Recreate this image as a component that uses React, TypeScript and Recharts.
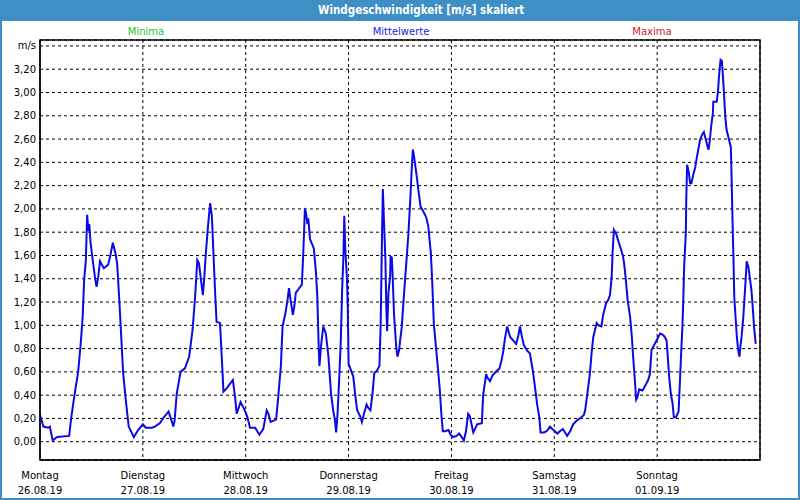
import React from 'react';
import { LineChart, Line, XAxis, YAxis, CartesianGrid, ReferenceArea } from 'recharts';

// hours since Monday 00:00 and wind speed [m/s] at the line's vertices
const hours = [
  0, 0.8, 1.9, 2.3, 2.95, 4.0, 6.8, 7.3, 8.0, 8.9, 9.5, 9.95, 10.3, 10.7, 11.0, 11.3, 11.5, 11.8, 12.3, 12.9,
  13.2, 13.6, 14.0, 14.9, 15.9, 16.3, 17.0, 17.6, 18.0, 18.5, 19.0, 19.4, 20.1, 20.7, 21.9, 22.9, 24.0, 24.7, 26.1, 26.8,
  28.0, 28.9, 30.0, 30.7, 31.1, 31.4, 31.9, 32.8, 33.8, 34.8, 35.6, 36.2, 36.7, 37.1, 37.5, 38.0, 38.3, 38.7, 39.2, 39.7,
  40.1, 40.4, 40.9, 41.2, 42.0, 42.6, 42.8, 43.6, 45.0, 45.5, 45.9, 46.8, 47.8, 48.4, 49.0, 50.2, 51.2, 52.1, 52.9, 53.3,
  53.8, 55.1, 55.6, 56.2, 56.6, 57.2, 57.8, 58.1, 58.5, 59.0, 59.3, 59.7, 60.3, 61.1, 61.4, 61.8, 62.0, 62.4, 62.6, 63.0,
  63.9, 64.4, 64.7, 65.0, 65.2, 65.6, 66.1, 66.7, 67.3, 67.9, 68.4, 68.8, 69.1, 69.4, 69.8, 70.2, 70.5, 70.8, 71.0, 71.2,
  71.6, 71.8, 72.0, 72.5, 73.1, 73.5, 74.0, 74.7, 75.1, 75.6, 76.2, 76.6, 77.1, 77.6, 78.0, 78.6, 79.2, 79.5, 79.8, 80.0,
  80.3, 80.6, 80.8, 81.0, 81.3, 81.7, 81.8, 82.1, 82.3, 82.6, 83.1, 83.4, 83.8, 84.0, 84.4, 84.9, 85.4, 85.9, 86.4, 86.8,
  87.0, 87.2, 87.5, 87.9, 88.3, 88.8, 89.4, 90.1, 90.6, 91.2, 91.5, 91.9, 92.4, 92.9, 93.3, 93.7, 94.0, 94.5, 95.3, 95.8,
  96.4, 97.2, 97.8, 98.4, 98.9, 99.4, 99.9, 100.3, 100.7, 101.1, 101.5, 102.0, 103.1, 103.4, 104.1, 104.4, 105.0, 105.6, 106.6, 107.2,
  107.7, 108.1, 108.5, 109.0, 109.7, 110.4, 111.1, 111.6, 112.0, 112.4, 112.9, 113.7, 114.3, 115.0, 115.5, 116.0, 116.5, 116.8, 117.6, 118.2,
  119.0, 119.8, 120.7, 121.3, 122.0, 123.0, 123.7, 124.4, 125.2, 126.0, 126.9, 127.2, 127.7, 128.3, 128.7, 129.1, 129.5, 129.9, 130.3, 131.0,
  131.4, 132.1, 132.6, 133.0, 133.4, 133.6, 133.9, 134.4, 134.9, 135.5, 136.0, 136.3, 136.7, 137.1, 137.7, 138.1, 138.4, 138.8, 139.1, 139.4,
  139.8, 140.6, 141.2, 141.9, 142.3, 142.7, 143.3, 144.0, 144.7, 145.3, 145.8, 146.2, 146.4, 146.6, 146.8, 147.2, 147.6, 147.9, 148.4, 149.0,
  149.3, 149.6, 149.9, 150.1, 150.3, 150.7, 150.8, 151.0, 151.4, 151.7, 152.0, 152.4, 152.9, 153.2, 153.6, 154.0, 154.5, 154.9, 155.4, 155.8,
  156.0, 156.3, 156.6, 157.0, 157.1, 157.9, 158.2, 158.5, 158.8, 159.1, 159.3, 159.6, 159.9, 160.2, 160.8, 161.2, 161.4, 161.6, 161.8, 162.0,
  162.3, 162.6, 162.9, 163.2, 163.4, 163.7, 164.1, 164.5, 164.9, 165.3, 165.7, 166.0, 166.3, 166.6, 167.0,
];

const speeds = [
  0.23, 0.13, 0.12, 0.13, 0.01, 0.04, 0.05, 0.21, 0.39, 0.6, 0.84, 1.07, 1.39, 1.56, 1.95, 1.81, 1.87, 1.71, 1.56, 1.39,
  1.33, 1.42, 1.55, 1.49, 1.52, 1.58, 1.71, 1.62, 1.53, 1.22, 0.87, 0.59, 0.33, 0.13, 0.04, 0.1, 0.15, 0.12, 0.12, 0.13,
  0.16, 0.21, 0.26, 0.18, 0.13, 0.18, 0.41, 0.6, 0.63, 0.73, 0.96, 1.25, 1.56, 1.53, 1.41, 1.26, 1.39, 1.62, 1.85, 2.05,
  1.94, 1.68, 1.25, 1.03, 1.02, 0.59, 0.43, 0.46, 0.53, 0.39, 0.24, 0.34, 0.27, 0.21, 0.12, 0.12, 0.06, 0.11, 0.27, 0.24,
  0.17, 0.19, 0.39, 0.65, 0.99, 1.09, 1.23, 1.32, 1.21, 1.09, 1.15, 1.28, 1.31, 1.35, 1.59, 1.99, 1.98, 1.87, 1.92, 1.74,
  1.66, 1.45, 1.25, 0.85, 0.65, 0.83, 0.99, 0.93, 0.73, 0.42, 0.27, 0.19, 0.08, 0.22, 0.53, 0.88, 1.31, 1.59, 1.94, 1.68,
  1.42, 1.19, 0.67, 0.62, 0.56, 0.42, 0.27, 0.22, 0.17, 0.24, 0.32, 0.29, 0.27, 0.42, 0.59, 0.61, 0.65, 1.02, 1.78, 2.17,
  1.85, 1.56, 1.16, 0.95, 1.28, 1.42, 1.59, 1.58, 1.41, 1.1, 0.82, 0.73, 0.79, 0.86, 0.98, 1.25, 1.5, 1.75, 2.08, 2.39,
  2.51, 2.47, 2.39, 2.28, 2.16, 2.02, 1.98, 1.93, 1.85, 1.62, 1.39, 1.01, 0.81, 0.61, 0.44, 0.21, 0.09, 0.09, 0.1, 0.06,
  0.04, 0.05, 0.07, 0.04, 0.01, 0.09, 0.24, 0.22, 0.15, 0.08, 0.11, 0.15, 0.16, 0.4, 0.58, 0.55, 0.52, 0.57, 0.61, 0.63,
  0.7, 0.78, 0.89, 0.99, 0.9, 0.87, 0.84, 0.91, 0.99, 0.91, 0.83, 0.78, 0.76, 0.61, 0.47, 0.32, 0.21, 0.08, 0.08, 0.09,
  0.13, 0.1, 0.07, 0.09, 0.11, 0.05, 0.09, 0.15, 0.18, 0.2, 0.23, 0.27, 0.41, 0.58, 0.76, 0.9, 0.96, 1.02, 1.0, 0.99,
  1.09, 1.19, 1.22, 1.26, 1.42, 1.62, 1.82, 1.79, 1.73, 1.66, 1.6, 1.53, 1.39, 1.22, 1.07, 0.9, 0.73, 0.53, 0.36, 0.38,
  0.45, 0.44, 0.48, 0.53, 0.58, 0.79, 0.83, 0.88, 0.93, 0.92, 0.9, 0.87, 0.77, 0.67, 0.56, 0.41, 0.33, 0.21, 0.21, 0.26,
  0.5, 0.76, 0.99, 1.22, 1.5, 1.8, 2.09, 2.38, 2.31, 2.22, 2.22, 2.29, 2.36, 2.43, 2.51, 2.59, 2.64, 2.66, 2.59, 2.53,
  2.51, 2.59, 2.71, 2.82, 2.92, 2.92, 3.01, 3.17, 3.28, 3.27, 3.17, 2.99, 2.79, 2.68, 2.59, 2.53, 2.22, 1.88, 1.59, 1.24,
  1.07, 0.9, 0.79, 0.73, 0.81, 0.9, 1.07, 1.3, 1.55, 1.5, 1.39, 1.3, 1.16, 0.99, 0.84,
];

const dayTicks = [0, 24, 48, 72, 96, 120, 144];
const dayNames = ['Montag', 'Dienstag', 'Mittwoch', 'Donnerstag', 'Freitag', 'Samstag', 'Sonntag'];
const dayDates = ['26.08.19', '27.08.19', '28.08.19', '29.08.19', '30.08.19', '31.08.19', '01.09.19'];
const speedTicks = [0, 0.2, 0.4, 0.6, 0.8, 1.0, 1.2, 1.4, 1.6, 1.8, 2.0, 2.2, 2.4, 2.6, 2.8, 3.0, 3.2, 3.4];

const data = hours.map((t, i) => ({ t, v: speeds[i] }));

const FONT = '"DejaVu Sans", Verdana, sans-serif';
const BLUE = '#3d8fc5';

const fmtSpeed = (v: number) => (Math.abs(v - 3.4) < 1e-6 ? 'm/s' : v.toFixed(2).replace('.', ','));

const DayTick = ({ x, y, payload }: any) => {
  const i = dayTicks.indexOf(payload.value);
  return (
    <g>
      <text x={x} y={y + 19} textAnchor="middle" fontSize={10} fontFamily={FONT} fill="#000">{dayNames[i]}</text>
      <text x={x} y={y + 34} textAnchor="middle" fontSize={10} fontFamily={FONT} fill="#000">{dayDates[i]}</text>
    </g>
  );
};

export default function App() {
  return (
    <div style={{ position: 'fixed', left: 0, top: 0, width: 800, height: 500, background: '#fff', fontFamily: FONT }}>
      <LineChart width={800} height={500} data={data} margin={{ top: 40, right: 40, left: 0, bottom: 0 }}>
        <CartesianGrid stroke="#000" strokeDasharray="3 3" />
        <XAxis
          dataKey="t"
          type="number"
          domain={[0, 168]}
          ticks={dayTicks}
          allowDataOverflow
          height={40}
          tickLine={false}
          tickSize={0}
          tickMargin={0}
          axisLine={{ stroke: '#000' }}
          tick={<DayTick />}
          interval={0}
        />
        <YAxis
          type="number"
          domain={[-0.157, 3.451]}
          ticks={speedTicks}
          allowDataOverflow
          width={40}
          tickLine={false}
          tickSize={4}
          tickMargin={0}
          axisLine={{ stroke: '#000' }}
          tickFormatter={fmtSpeed}
          tick={{ fill: '#000', fontSize: 10, fontFamily: FONT }}
          interval={0}
        />
        <ReferenceArea x1={0} x2={168} y1={-0.157} y2={3.451} stroke="#000" strokeWidth={1.5} fill="none" fillOpacity={0} ifOverflow="visible" />
        <Line type="linear" dataKey="v" stroke="#0a0ae6" strokeWidth={2} dot={false} isAnimationActive={false} />
      </LineChart>

      <div style={{ position: 'absolute', left: 0, top: 0, width: 800, height: 21, background: BLUE }} />
      <div style={{ position: 'absolute', left: 318, width: 201, top: 3, textAlign: 'center', color: '#fff', fontSize: 11.5, fontWeight: 'bold', whiteSpace: 'nowrap', fontFamily: '"DejaVu Sans Condensed", "DejaVu Sans", sans-serif' }}>
        Windgeschwindigkeit [m/s] skaliert
      </div>
      <div style={{ position: 'absolute', left: 96, width: 100, top: 26, textAlign: 'center', fontSize: 10, color: '#22c422' }}>Minima</div>
      <div style={{ position: 'absolute', left: 351, width: 100, top: 26, textAlign: 'center', fontSize: 10, color: '#2222e0' }}>Mittelwerte</div>
      <div style={{ position: 'absolute', left: 602, width: 100, top: 26, textAlign: 'center', fontSize: 10, color: '#c81e1e' }}>Maxima</div>
      <div style={{ position: 'absolute', left: 0, top: 0, width: 800, height: 500, boxSizing: 'border-box', border: `2px solid ${BLUE}`, pointerEvents: 'none' }} />
    </div>
  );
}
